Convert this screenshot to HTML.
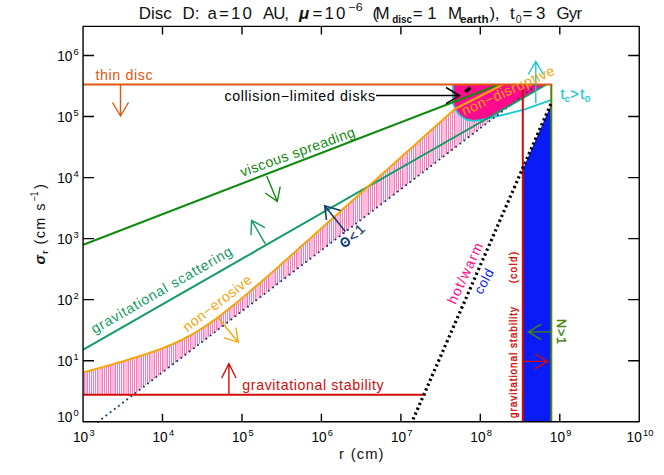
<!DOCTYPE html>
<html><head><meta charset="utf-8"><title>Disc D</title>
<style>
html,body{margin:0;padding:0;background:#fff;}
svg{display:block;}
text{font-family:"Liberation Sans",sans-serif;}
svg{opacity:0.999;}
</style></head><body>
<svg width="664" height="475" viewBox="0 0 664 475">
<defs>
</defs>
<rect width="664" height="475" fill="#fff"/>

<clipPath id="hc"><polygon points="83.3,372.4 87.3,371.3 91.3,370.2 95.3,369.1 99.3,368.0 103.3,366.9 107.3,365.7 111.3,364.6 115.3,363.5 119.3,362.3 123.3,361.2 127.3,360.0 131.3,358.8 135.3,357.5 139.3,356.3 143.3,355.0 147.3,353.7 151.3,352.3 155.3,350.9 159.3,349.5 163.3,347.9 167.3,346.3 171.3,344.7 175.3,342.9 179.3,341.0 183.3,339.1 187.3,337.0 191.3,334.8 195.3,332.5 199.3,330.0 203.3,327.5 207.3,324.8 211.3,322.1 215.3,319.2 219.3,316.3 223.3,313.2 227.3,310.1 231.3,306.9 235.3,303.7 239.3,300.4 243.3,297.1 247.3,293.7 251.3,290.3 255.3,286.8 259.3,283.4 263.3,279.9 267.3,276.4 271.3,272.9 275.3,269.4 279.3,265.9 283.3,262.3 287.3,258.8 291.3,255.2 295.3,251.7 299.3,248.1 303.3,244.5 307.3,241.0 311.3,237.4 315.3,233.8 319.3,230.3 323.3,226.7 327.3,223.1 331.3,219.5 335.3,216.0 339.3,212.4 343.3,208.8 347.3,205.2 351.3,201.6 355.3,198.1 359.3,194.5 363.3,190.9 367.3,187.3 371.3,183.8 375.3,180.2 379.3,176.6 383.3,173.0 387.3,169.4 391.3,165.9 395.3,162.3 399.3,158.7 403.3,155.1 407.3,151.5 411.3,148.0 415.3,144.4 419.3,140.8 423.3,137.2 427.3,133.6 431.3,130.1 435.3,126.5 439.3,122.9 443.3,119.3 447.3,115.7 451.3,112.2 455.3,108.6 455.8,108.5 503.0,84.5 537.0,84.6 133.3,394.7 83.3,394.7"/></clipPath>
<path d="M84.50 82V397M86.00 82V397M87.50 82V397M89.50 82V397M91.50 82V397M93.50 82V397M95.50 82V397M97.50 82V397M99.00 82V397M101.00 82V397M102.50 82V397M104.50 82V397M106.50 82V397M108.50 82V397M110.50 82V397M112.00 82V397M114.00 82V397M115.50 82V397M117.50 82V397M119.50 82V397M121.50 82V397M123.50 82V397M125.00 82V397M127.00 82V397M128.50 82V397M130.50 82V397M132.50 82V397M134.50 82V397M136.50 82V397M138.00 82V397M140.00 82V397M141.50 82V397M143.50 82V397M145.50 82V397M147.50 82V397M149.50 82V397M151.00 82V397M153.00 82V397M154.50 82V397M156.50 82V397M158.50 82V397M160.50 82V397M162.50 82V397M164.00 82V397M166.00 82V397M167.50 82V397M169.50 82V397M171.50 82V397M173.50 82V397M175.50 82V397M177.00 82V397M179.00 82V397M181.00 82V397M182.50 82V397M184.50 82V397M186.50 82V397M188.50 82V397M190.50 82V397M192.00 82V397M194.00 82V397M195.50 82V397M197.50 82V397M199.50 82V397M201.50 82V397M203.50 82V397M205.00 82V397M207.00 82V397M208.50 82V397M210.50 82V397M212.50 82V397M214.50 82V397M216.50 82V397M218.00 82V397M220.00 82V397M221.50 82V397M223.50 82V397M225.50 82V397M227.50 82V397M229.50 82V397M231.00 82V397M233.00 82V397M234.50 82V397M236.50 82V397M238.50 82V397M240.50 82V397M242.50 82V397M244.00 82V397M246.00 82V397M247.50 82V397M249.50 82V397M251.50 82V397M253.50 82V397M255.50 82V397M257.00 82V397M259.00 82V397M260.50 82V397M262.50 82V397M264.50 82V397M266.50 82V397M268.50 82V397M270.00 82V397M272.00 82V397M274.00 82V397M275.50 82V397M277.50 82V397M279.50 82V397M281.50 82V397M283.50 82V397M285.00 82V397M287.00 82V397M288.50 82V397M290.50 82V397M292.50 82V397M294.50 82V397M296.50 82V397M298.00 82V397M300.00 82V397M301.50 82V397M303.50 82V397M305.50 82V397M307.50 82V397M309.50 82V397M311.00 82V397M313.00 82V397M314.50 82V397M316.50 82V397M318.50 82V397M320.50 82V397M322.50 82V397M324.00 82V397M326.00 82V397M327.50 82V397M329.50 82V397M331.50 82V397M333.50 82V397M335.50 82V397M337.00 82V397M339.00 82V397M340.50 82V397M342.50 82V397M344.50 82V397M346.50 82V397M348.50 82V397M350.00 82V397M352.00 82V397M353.50 82V397M355.50 82V397M357.50 82V397M359.50 82V397M361.50 82V397M363.00 82V397M365.00 82V397M367.00 82V397M368.50 82V397M370.50 82V397M372.50 82V397M374.50 82V397M376.50 82V397M378.00 82V397M380.00 82V397M381.50 82V397M383.50 82V397M385.50 82V397M387.50 82V397M389.50 82V397M391.00 82V397M393.00 82V397M394.50 82V397M396.50 82V397M398.50 82V397M400.50 82V397M402.50 82V397M404.00 82V397M406.00 82V397M407.50 82V397M409.50 82V397M411.50 82V397M413.50 82V397M415.50 82V397M417.00 82V397M419.00 82V397M420.50 82V397M422.50 82V397M424.50 82V397M426.50 82V397M428.50 82V397M430.00 82V397M432.00 82V397M433.50 82V397M435.50 82V397M437.50 82V397M439.50 82V397M441.50 82V397M443.00 82V397M445.00 82V397M446.50 82V397M448.50 82V397M450.50 82V397M452.50 82V397M454.50 82V397M456.00 82V397M458.00 82V397M460.00 82V397M461.50 82V397M463.50 82V397M465.50 82V397M467.50 82V397M469.50 82V397M471.00 82V397M473.00 82V397M474.50 82V397M476.50 82V397M478.50 82V397M480.50 82V397M482.50 82V397M484.00 82V397M486.00 82V397M487.50 82V397M489.50 82V397M491.50 82V397M493.50 82V397M495.50 82V397M497.00 82V397M499.00 82V397M500.50 82V397M502.50 82V397M504.50 82V397M506.50 82V397M508.50 82V397M510.00 82V397M512.00 82V397M513.50 82V397M515.50 82V397M517.50 82V397M519.50 82V397M521.50 82V397M523.00 82V397M525.00 82V397M526.50 82V397M528.50 82V397M530.50 82V397M532.50 82V397M534.50 82V397M536.00 82V397M538.00 82V397" stroke="#ff76bd" stroke-width="1" fill="none" clip-path="url(#hc)"/>
<polygon points="522.7,169.5 551.3,104.0 551.3,421.8 522.7,421.8" fill="#0a1cf5"/>
<polygon points="452.9,84.5 452.9,100.0 453.5,104.2 455.5,109.5 459.8,115.3 466.1,119.5 473.5,120.8 480.8,120.0 486.9,118.6 546.5,84.5" fill="#ff0a8c"/>
<polyline points="452.9,84.5 452.9,100.0 453.5,104.2 455.5,109.5 459.8,115.3 466.1,119.5 473.5,120.8 480.8,120.0 494.5,116.9 510.0,113.2 524.8,109.3 536.0,105.3 550.8,100.2" fill="none" stroke="#1cc6d2" stroke-width="1.8" stroke-linejoin="round"/>
<line x1="98.0" y1="421.8" x2="537.0" y2="84.6" stroke="#143c72" stroke-width="2" stroke-dasharray="0.1 5.15" stroke-linecap="round"/>
<line x1="83.3" y1="349.7" x2="546.5" y2="84.5" stroke="#149a62" stroke-width="2"/>
<line x1="83.3" y1="244.7" x2="499" y2="84.5" stroke="#108a10" stroke-width="2"/>
<polyline points="83.3,372.4 87.3,371.3 91.3,370.2 95.3,369.1 99.3,368.0 103.3,366.9 107.3,365.7 111.3,364.6 115.3,363.5 119.3,362.3 123.3,361.2 127.3,360.0 131.3,358.8 135.3,357.5 139.3,356.3 143.3,355.0 147.3,353.7 151.3,352.3 155.3,350.9 159.3,349.5 163.3,347.9 167.3,346.3 171.3,344.7 175.3,342.9 179.3,341.0 183.3,339.1 187.3,337.0 191.3,334.8 195.3,332.5 199.3,330.0 203.3,327.5 207.3,324.8 211.3,322.1 215.3,319.2 219.3,316.3 223.3,313.2 227.3,310.1 231.3,306.9 235.3,303.7 239.3,300.4 243.3,297.1 247.3,293.7 251.3,290.3 255.3,286.8 259.3,283.4 263.3,279.9 267.3,276.4 271.3,272.9 275.3,269.4 279.3,265.9 283.3,262.3 287.3,258.8 291.3,255.2 295.3,251.7 299.3,248.1 303.3,244.5 307.3,241.0 311.3,237.4 315.3,233.8 319.3,230.3 323.3,226.7 327.3,223.1 331.3,219.5 335.3,216.0 339.3,212.4 343.3,208.8 347.3,205.2 351.3,201.6 355.3,198.1 359.3,194.5 363.3,190.9 367.3,187.3 371.3,183.8 375.3,180.2 379.3,176.6 383.3,173.0 387.3,169.4 391.3,165.9 395.3,162.3 399.3,158.7 403.3,155.1 407.3,151.5 411.3,148.0 415.3,144.4 419.3,140.8 423.3,137.2 427.3,133.6 431.3,130.1 435.3,126.5 439.3,122.9 443.3,119.3 447.3,115.7 451.3,112.2 455.3,108.6 455.8,108.5 503.0,84.5" fill="none" stroke="#f2a60c" stroke-width="2" stroke-linejoin="round"/>
<line x1="83.3" y1="394.7" x2="426" y2="394.7" stroke="#d40a0a" stroke-width="2"/>
<line x1="522.8" y1="89.3" x2="522.8" y2="421.8" stroke="#d40a0a" stroke-width="2"/>
<line x1="551.3" y1="84.5" x2="551.3" y2="421.8" stroke="#4c8410" stroke-width="2"/>
<line x1="83.3" y1="84.5" x2="552.3" y2="84.5" stroke="#e0560f" stroke-width="2"/>
<line x1="550.8" y1="104.0" x2="412.0" y2="421.8" stroke="#000" stroke-width="3.2" stroke-dasharray="2.3 2.96"/>
<line x1="465.3" y1="92.0" x2="470.3" y2="87.5" stroke="#000" stroke-width="3.2"/>
<path d="M120.5 85.0L120.5 116.0M112.5 102.5L120.5 116.0L128.5 102.5" fill="none" stroke="#e0560f" stroke-width="1.4" stroke-linejoin="miter"/>
<path d="M266.7 176.1L277.3 201.4M265.1 193.0L277.3 201.4L280.2 186.7" fill="none" stroke="#108a10" stroke-width="1.4" stroke-linejoin="miter"/>
<path d="M265.3 243.9L251.6 220.3M251.0 235.1L251.6 220.3L264.9 227.7" fill="none" stroke="#149a62" stroke-width="1.4" stroke-linejoin="miter"/>
<path d="M345.3 231.6L324.7 205.8M326.5 220.0L324.7 205.8L340.6 210.6" fill="none" stroke="#143c72" stroke-width="1.6" stroke-linejoin="miter"/>
<path d="M218.5 318.0L238.2 342.3M223.8 337.7L238.2 342.3L235.9 327.6" fill="none" stroke="#f2a60c" stroke-width="1.4" stroke-linejoin="miter"/>
<path d="M228.9 394.7L228.9 363.5M221.7 378.0L228.9 363.5L236.1 378.0" fill="none" stroke="#d40a0a" stroke-width="1.4" stroke-linejoin="miter"/>
<path d="M376.0 95.6L459.6 95.6M446.0 87.5L459.6 95.6L446.0 103.6" fill="none" stroke="#000" stroke-width="1.5" stroke-linejoin="miter"/>
<path d="M535.8 103.3L535.8 61.4M528.2 74.5L535.8 61.4L543.4 74.5" fill="none" stroke="#1cc6d2" stroke-width="1.4" stroke-linejoin="miter"/>
<path d="M551.0 331.9L528.4 331.9M541.2 324.2L528.4 331.9L541.2 339.6" fill="none" stroke="#4c8410" stroke-width="1.4" stroke-linejoin="miter"/>
<path d="M523.0 361.4L547.4 361.4M535.0 354.0L547.4 361.4L535.0 368.8" fill="none" stroke="#d40a0a" stroke-width="1.4" stroke-linejoin="miter"/>
<rect x="83.05" y="26.4" width="556.2" height="395.4" fill="none" stroke="#000" stroke-width="1.4" stroke-linejoin="round"/>
<path d="M162.5 421.75v-8M162.5 26.4v8M242.0 421.75v-8M242.0 26.4v8M321.4 421.75v-8M321.4 26.4v8M400.9 421.75v-8M400.9 26.4v8M480.3 421.75v-8M480.3 26.4v8M559.8 421.75v-8M559.8 26.4v8M83.05 360.7h11M639.2 360.7h-11M83.05 299.6h11M639.2 299.6h-11M83.05 238.6h11M639.2 238.6h-11M83.05 177.6h11M639.2 177.6h-11M83.05 116.5h11M639.2 116.5h-11M83.05 55.5h11M639.2 55.5h-11" stroke="#000" stroke-width="1.4" fill="none"/>
<text x="73.0" y="442" font-size="14.3" textLength="15.2" lengthAdjust="spacingAndGlyphs">10</text><text x="89.5" y="436.4" font-size="9.3">3</text>
<text x="152.5" y="442" font-size="14.3" textLength="15.2" lengthAdjust="spacingAndGlyphs">10</text><text x="168.9" y="436.4" font-size="9.3">4</text>
<text x="232.0" y="442" font-size="14.3" textLength="15.2" lengthAdjust="spacingAndGlyphs">10</text><text x="248.4" y="436.4" font-size="9.3">5</text>
<text x="311.4" y="442" font-size="14.3" textLength="15.2" lengthAdjust="spacingAndGlyphs">10</text><text x="327.8" y="436.4" font-size="9.3">6</text>
<text x="390.9" y="442" font-size="14.3" textLength="15.2" lengthAdjust="spacingAndGlyphs">10</text><text x="407.3" y="436.4" font-size="9.3">7</text>
<text x="470.3" y="442" font-size="14.3" textLength="15.2" lengthAdjust="spacingAndGlyphs">10</text><text x="486.7" y="436.4" font-size="9.3">8</text>
<text x="549.8" y="442" font-size="14.3" textLength="15.2" lengthAdjust="spacingAndGlyphs">10</text><text x="566.2" y="436.4" font-size="9.3">9</text>
<text x="626.6" y="442" font-size="14.3" textLength="15.2" lengthAdjust="spacingAndGlyphs">10</text><text x="643.0" y="436.4" font-size="9.3">10</text>
<text x="57.2" y="421.9" font-size="14.3" textLength="15.2" lengthAdjust="spacingAndGlyphs">10</text><text x="73.4" y="415.9" font-size="9.3">0</text>
<text x="57.2" y="366.0" font-size="14.3" textLength="15.2" lengthAdjust="spacingAndGlyphs">10</text><text x="73.4" y="360.0" font-size="9.3">1</text>
<text x="57.2" y="304.9" font-size="14.3" textLength="15.2" lengthAdjust="spacingAndGlyphs">10</text><text x="73.4" y="298.9" font-size="9.3">2</text>
<text x="57.2" y="243.9" font-size="14.3" textLength="15.2" lengthAdjust="spacingAndGlyphs">10</text><text x="73.4" y="237.9" font-size="9.3">3</text>
<text x="57.2" y="182.9" font-size="14.3" textLength="15.2" lengthAdjust="spacingAndGlyphs">10</text><text x="73.4" y="176.9" font-size="9.3">4</text>
<text x="57.2" y="121.8" font-size="14.3" textLength="15.2" lengthAdjust="spacingAndGlyphs">10</text><text x="73.4" y="115.8" font-size="9.3">5</text>
<text x="57.2" y="60.8" font-size="14.3" textLength="15.2" lengthAdjust="spacingAndGlyphs">10</text><text x="73.4" y="54.8" font-size="9.3">6</text>
<text x="138.7" y="18.7" font-size="16.9" fill="#111" textLength="33" lengthAdjust="spacing">Disc</text>
<text x="182.5" y="18.7" font-size="16.9" fill="#111" >D:</text>
<text x="207.5" y="18.7" font-size="16.9" fill="#111" textLength="44.5" lengthAdjust="spacing">a=10</text>
<text x="263" y="18.7" font-size="16.9" fill="#111" textLength="26" lengthAdjust="spacing">AU,</text>
<text x="299" y="18.7" font-size="16.9" fill="#111" font-style="italic" font-weight="bold">&#956;</text>
<text x="312.5" y="18.7" font-size="16.9" fill="#111" textLength="33" lengthAdjust="spacing">=10</text>
<text x="348.4" y="10.5" font-size="11.5" fill="#111" textLength="14.2" lengthAdjust="spacingAndGlyphs">&#8722;6</text>
<text x="372.5" y="18.7" font-size="16.9" fill="#111" textLength="17" lengthAdjust="spacing">(M</text>
<text x="392.3" y="22.7" font-size="10.5" fill="#111" font-weight="bold" textLength="19.8" lengthAdjust="spacingAndGlyphs">disc</text>
<text x="412.7" y="18.7" font-size="16.9" fill="#111" textLength="24" lengthAdjust="spacing">=1</text>
<text x="448" y="18.7" font-size="16.9" fill="#111" >M</text>
<text x="460.1" y="22.7" font-size="10.5" fill="#111" font-weight="bold" textLength="28.5" lengthAdjust="spacingAndGlyphs">earth</text>
<text x="489.5" y="18.7" font-size="16.9" fill="#111" textLength="10" lengthAdjust="spacing">),</text>
<text x="510" y="18.7" font-size="16.9" fill="#111" >t</text>
<text x="515.7" y="22.7" font-size="10.5" fill="#111" >0</text>
<text x="522.5" y="18.7" font-size="16.9" fill="#111" textLength="23" lengthAdjust="spacing">=3</text>
<text x="556.4" y="18.7" font-size="16.9" fill="#111" textLength="25.7" lengthAdjust="spacing">Gyr</text>
<text x="338.9" y="458.9" font-size="14.8" fill="#111" >r</text>
<text x="350.8" y="458.9" font-size="14.8" fill="#111" textLength="32.6" lengthAdjust="spacing">(cm)</text>
<g transform="translate(44.5,264.5) rotate(-90)"><text x="0" y="0" font-size="14.5" fill="#111" font-style="italic" font-weight="bold">&#963;</text><text x="10.5" y="3.5" font-size="9.5" fill="#111" font-weight="bold">r</text><text x="20" y="0" font-size="14.5" fill="#111" textLength="41" lengthAdjust="spacing">(cm s</text><text x="63.5" y="-7.0" font-size="10" fill="#111" textLength="9.5" lengthAdjust="spacingAndGlyphs">&#8722;1</text><text x="75.5" y="0" font-size="14.5" fill="#111" >)</text></g>
<text transform="translate(95.5,80) rotate(0)" font-size="14.2" fill="#e0560f" textLength="57" lengthAdjust="spacing" >thin disc</text>
<text transform="translate(224.4,100.7) rotate(0)" font-size="14.2" fill="#000" textLength="150.6" lengthAdjust="spacing" >collision&#8722;limited disks</text>
<text transform="translate(242.2,177.0) rotate(-19.8)" font-size="14.2" fill="#108a10" textLength="121" lengthAdjust="spacing" >viscous spreading</text>
<text transform="translate(94.6,334.0) rotate(-29.85)" font-size="14.2" fill="#149a62" textLength="160" lengthAdjust="spacing" >gravitational scattering</text>
<text transform="translate(187.3,332.4) rotate(-37.6)" font-size="14.2" fill="#f2a60c" textLength="83" lengthAdjust="spacing" >non&#8722;erosive</text>
<text transform="translate(242.3,389.5) rotate(0)" font-size="14.2" fill="#d40a0a" textLength="141.3" lengthAdjust="spacing" >gravitational stability</text>
<text transform="translate(464.3,116.0) rotate(-24.6)" font-size="14.2" fill="#f2a60c" textLength="100.4" lengthAdjust="spacing" >non&#8722;disruptive</text>
<g transform="translate(345.3,242.1) rotate(-43)"><ellipse cx="0" cy="0" rx="3.5" ry="4.1" fill="none" stroke="#143c72" stroke-width="2"/><line x1="-1.3" y1="0" x2="1.3" y2="0" stroke="#143c72" stroke-width="1.6"/><text x="5.8" y="5.8" font-size="13.5" fill="#143c72" stroke="#143c72" stroke-width="0.3">&lt;</text><text x="15.6" y="5.3" font-size="13.5" fill="#143c72" stroke="#143c72" stroke-width="0.3">1</text></g>
<text transform="translate(455.5,305.3) rotate(-65.0)" font-size="14.2" fill="#ff0a8c" textLength="66" lengthAdjust="spacing" >hot/warm</text>
<text transform="translate(481.8,295.3) rotate(-62)" font-size="13.6" fill="#0a1cf5" textLength="26.5" lengthAdjust="spacing" >cold</text>
<text transform="translate(516.6,418) rotate(-90)" font-size="10.0" fill="#d40a0a" textLength="111" lengthAdjust="spacing" stroke="#d40a0a" stroke-width="0.35">gravitational stability</text>
<text transform="translate(516.6,283.3) rotate(-90)" font-size="10.0" fill="#d40a0a" textLength="31.4" lengthAdjust="spacing" stroke="#d40a0a" stroke-width="0.35">(cold)</text>
<text transform="translate(556.6,319.0) rotate(90)" font-size="12.5" fill="#4c8410" textLength="25.0" lengthAdjust="spacing" stroke="#4c8410" stroke-width="0.4">N&gt;1</text>
<text x="560.4" y="98.8" font-size="14.5" fill="#1cc6d2" stroke="#1cc6d2" stroke-width="0.3">t</text><text x="564.8" y="102.2" font-size="9.8" fill="#1cc6d2" stroke="#1cc6d2" stroke-width="0.3">c</text><text x="570.2" y="98.8" font-size="14.5" fill="#1cc6d2" textLength="14" lengthAdjust="spacing" stroke="#1cc6d2" stroke-width="0.3">&gt;t</text><text x="584.8" y="102.2" font-size="9.8" fill="#1cc6d2" stroke="#1cc6d2" stroke-width="0.3">0</text>
</svg></body></html>
